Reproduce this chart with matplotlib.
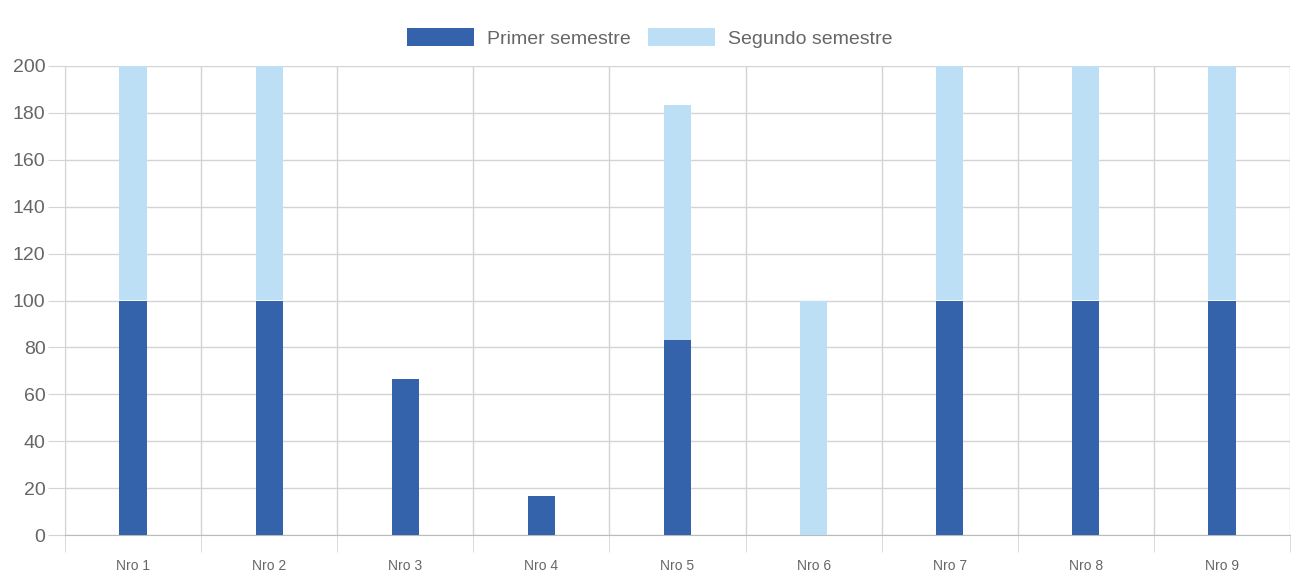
import matplotlib
matplotlib.use("Agg")
import matplotlib.pyplot as plt
import numpy as np

categories = ["Nro 1", "Nro 2", "Nro 3", "Nro 4", "Nro 5", "Nro 6", "Nro 7", "Nro 8", "Nro 9"]
primer = [100, 100, 66.67, 16.67, 83.33, 0, 100, 100, 100]
segundo = [100, 100, 0, 0, 100, 100, 100, 100, 100]
yticks = [0, 20, 40, 60, 80, 100, 120, 140, 160, 180, 200]

plt.rcParams['font.family'] = ['Liberation Sans', 'DejaVu Sans']

dark = '#3462AB'
light = '#BDDFF5'
grid_c = '#D4D4D4'
text_c = '#666666'

fig = plt.figure(figsize=(12.91, 5.76), dpi=100)
ax = fig.add_axes([65/1291, 1-535/576, (1290-65)/1291, (535-66)/576])

x = np.arange(len(categories))
ax.bar(x, primer, width=0.2, color=dark, label='Primer semestre', zorder=3)
ax.bar(x, segundo, width=0.2, bottom=primer, color=light, label='Segundo semestre', zorder=3)

ax.set_xlim(-0.5, len(categories) - 0.5)
ax.set_ylim(0, 200)
ax.set_yticks(yticks)
ax.set_xticks(x)
ax.set_xticklabels(categories)
ax.set_xticks(np.arange(-0.5, len(categories)), minor=True)

for s in ['top', 'right']:
    ax.spines[s].set_visible(False)
ax.spines['left'].set_color(grid_c)
ax.spines['bottom'].set_color('#BBBBBB')

ax.grid(axis='y', color=grid_c, linewidth=1, zorder=0)
ax.grid(axis='x', which='minor', color=grid_c, linewidth=1, zorder=0)
ax.tick_params(axis='y', length=12, color=grid_c, labelsize=14, labelcolor=text_c, pad=2)
ax.tick_params(axis='x', which='major', length=0, labelsize=10, labelcolor=text_c, pad=17)
ax.tick_params(axis='x', which='minor', length=12, color=grid_c)

leg = fig.legend(loc='center', bbox_to_anchor=(650/1291, 1-38/576), ncol=2, frameon=False,
                 fontsize=14, handlelength=3.45, handleheight=1.0, columnspacing=0.9,
                 handletextpad=0.65, labelcolor=text_c)

fig.savefig('out.png', dpi=100)
